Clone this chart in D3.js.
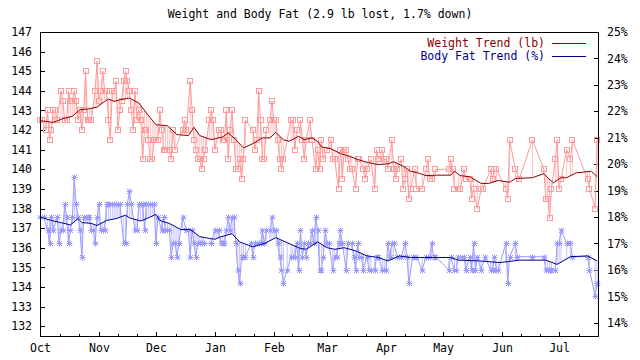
<!DOCTYPE html>
<html><head><meta charset="utf-8">
<script src="https://cdn.jsdelivr.net/npm/d3@7"></script>
<style>
body{margin:0;background:#fff}
svg text{font-family:"DejaVu Sans Mono","Liberation Mono",monospace;font-size:11.5px;fill:#000}
</style></head><body>
<svg id="c" width="640" height="360"></svg>
<script>
// ---------- data ----------
const chartTitle = "Weight and Body Fat (2.9 lb lost, 1.7% down)";
const legendLabels = ["Weight Trend (lb)", "Body Fat Trend (%)"];
const monthLabels = ["Oct","Nov","Dec","Jan","Feb","Mar","Apr","May","Jun","Jul"];
const weightTicks = [132,133,134,135,136,137,138,139,140,141,142,143,144,145,146,147];
const fatTicks = [14,15,16,17,18,19,20,21,22,23,24,25];
const startDay = "2008-10-01", endDay = "2009-07-22";

// days after startDay
const weightDays = [0,1,3,4,5,6,7,8,9,11,
12,13,14,15,16,17,18,19,20,21,
22,23,24,25,26,27,29,30,31,32,
33,34,35,36,37,38,39,40,41,42,
43,44,45,46,47,48,49,50,51,52,
53,54,55,56,57,58,59,60,61,62,
63,64,65,66,67,68,69,70,71,75,
76,77,79,80,81,82,83,84,85,86,
87,89,90,91,92,94,95,96,97,98,
99,100,101,102,103,104,105,106,107,108,
112,113,114,115,116,117,118,119,121,122,
123,124,125,126,127,128,132,133,134,135,
137,138,139,140,142,143,145,146,147,148,
149,151,153,154,155,157,158,159,160,161,
162,163,164,166,167,168,170,171,172,174,
176,177,178,180,181,182,183,185,186,187,
188,190,191,192,193,194,195,197,198,201,
203,204,205,206,208,215,216,217,218,220,
221,223,224,226,227,228,230,232,233,237,
238,239,240,245,246,247,250,252,259,265,
266,267,268,269,271,272,273,274,277,279,
280,288,289,292,293];
const weightLb = [142.5,142.5,142.0,143.0,141.5,142.0,143.0,143.0,142.5,144.0,
143.5,142.5,142.5,144.0,143.5,143.5,144.0,143.5,142.5,143.0,
142.0,143.0,145.0,142.5,142.5,142.5,144.0,145.5,143.5,144.0,
145.0,144.0,144.0,142.5,141.5,144.0,144.0,144.5,142.0,143.0,
143.5,144.5,145.0,144.5,144.0,143.0,142.0,144.0,142.5,143.0,
142.5,140.5,142.0,142.0,141.5,140.5,140.5,141.5,141.5,141.5,
143.0,142.0,141.0,141.0,141.0,141.0,140.5,142.0,141.0,142.0,
142.5,142.0,144.5,143.0,141.5,141.0,140.5,140.5,140.0,140.5,
141.0,142.5,143.0,142.5,141.0,142.0,142.0,141.5,141.5,143.0,
140.5,142.0,143.0,141.5,140.0,140.0,140.5,139.5,140.5,142.5,
142.0,141.0,141.5,144.0,142.5,140.5,140.5,142.0,142.5,143.5,
142.5,142.5,141.5,140.5,140.0,140.5,142.5,142.5,141.0,142.0,
142.5,141.5,140.5,141.5,142.5,141.5,140.0,141.0,140.0,141.5,
140.5,141.0,141.5,140.5,140.5,139.0,141.0,139.5,141.0,141.0,
140.5,140.0,140.0,139.0,140.5,140.5,140.0,139.5,140.0,140.5,
139.0,141.0,140.5,141.0,140.5,140.5,140.0,141.5,140.0,139.5,
140.0,140.5,139.0,139.5,140.0,138.5,139.0,140.0,139.0,139.0,
140.0,140.5,139.5,139.5,140.0,140.0,140.5,140.0,139.0,139.0,
139.0,140.0,139.5,139.5,138.5,139.0,138.0,139.0,139.0,140.0,
139.5,140.0,140.0,139.0,138.5,141.5,140.0,139.5,141.5,140.0,
138.5,138.5,137.5,139.0,140.5,141.5,139.0,139.5,141.0,140.5,
141.5,139.5,139.0,138.0,141.5];

const fatDays = [0,2,4,5,6,7,9,10,11,12,
13,14,15,16,17,18,19,20,21,22,
23,24,25,26,27,28,29,30,31,32,
33,34,35,36,37,38,39,40,41,42,
44,45,46,47,48,50,51,52,53,54,
55,56,57,58,59,60,61,62,64,65,
66,67,68,69,70,71,72,73,75,77,
78,79,80,81,82,83,84,85,86,90,
92,93,94,95,96,97,98,99,100,101,
102,103,104,105,106,107,108,111,112,113,
114,115,116,117,118,119,121,122,123,124,
125,126,127,128,130,132,133,134,135,136,
137,138,139,140,141,142,143,144,145,146,
147,148,149,150,151,152,154,155,156,157,
158,159,161,162,164,165,166,167,168,169,
170,172,173,174,176,177,178,180,181,182,
183,184,185,186,188,189,190,192,193,194,
196,198,201,203,204,205,206,207,208,215,
216,218,219,220,222,223,224,226,227,228,
229,230,232,234,237,238,239,240,241,245,
246,247,250,251,259,265,266,267,268,269,
271,272,273,274,277,279,280,288,289,292,
293];
const fatPct = [18.0,18.0,17.5,17.0,18.0,17.5,18.0,17.0,17.5,17.5,
18.5,18.0,17.0,17.5,18.0,19.5,18.5,18.0,17.5,16.5,
18.0,18.0,18.0,18.0,17.5,17.5,17.0,18.0,18.5,17.5,
17.5,17.5,18.5,18.5,18.5,18.5,18.5,18.5,18.5,18.5,
17.0,17.0,18.5,19.0,18.5,17.5,17.5,18.5,18.5,18.5,
17.5,18.5,18.5,18.5,18.5,18.5,17.0,18.0,17.5,18.0,
17.5,17.5,17.5,16.5,17.0,17.0,16.5,17.0,18.0,17.5,
17.5,16.5,17.5,17.0,16.5,17.0,17.0,17.0,17.0,17.0,
17.5,17.5,17.5,17.0,17.0,17.0,17.5,18.0,17.5,18.0,
18.0,17.0,16.0,15.5,16.5,16.5,16.5,17.0,16.5,17.0,
17.0,17.0,17.0,17.5,17.0,17.5,17.5,18.0,17.5,17.5,
17.0,16.5,16.0,15.5,16.0,16.5,16.5,16.5,17.0,16.0,
17.5,16.5,17.0,16.5,17.0,17.0,17.5,17.0,18.0,17.5,
16.0,16.0,16.5,17.5,17.0,17.0,16.0,16.5,16.5,17.0,
17.5,17.0,16.0,17.0,17.0,16.5,16.0,17.0,16.5,16.5,
16.0,16.5,16.0,16.0,16.0,16.5,16.5,16.0,16.0,16.0,
17.0,16.5,17.0,17.0,16.5,16.5,16.5,17.0,16.5,15.5,
16.5,16.5,16.0,16.5,16.5,16.5,17.0,16.5,16.5,16.0,
16.5,16.0,16.0,16.5,16.5,16.5,16.0,16.5,16.0,17.0,
16.0,16.5,16.0,16.5,16.0,16.0,16.5,16.0,16.0,17.0,
15.5,16.5,17.0,16.5,16.5,16.5,16.0,16.0,16.0,16.0,
16.0,17.0,17.0,17.5,17.0,17.0,16.5,16.5,16.0,15.0,
15.5];

// trend lines
const weightTrendDays = [0,7,12,17,21,25,30,34,36,39,42,47,52,56,61,67,72,78,81,84,
90,96,99,103,107,112,117,121,124,128,131,136,139,143,146,148,153,158,163,167,
173,178,183,186,191,195,200,203,209,216,218,221,226,232,236,241,247,250,259,265,
267,270,274,277,282,290,293];
const weightTrendLb = [142.48,142.39,142.58,142.70,143.04,143.07,143.17,143.46,143.58,143.46,
143.54,143.63,143.38,142.87,142.27,142.22,141.77,141.72,142.14,141.72,
141.51,141.65,141.85,141.51,141.09,141.31,141.60,141.60,141.88,141.51,
141.43,141.68,141.51,141.60,141.43,141.14,141.05,140.80,140.66,140.50,
140.33,140.24,140.28,140.38,140.16,139.90,139.78,139.68,139.70,139.70,
139.90,139.68,139.62,139.28,139.28,139.43,139.34,139.53,139.57,139.78,
139.57,139.31,139.57,139.57,139.82,139.90,139.62];
const fatTrendDays = [0,6,11,16,20,22,27,30,35,40,45,47,53,58,61,63,68,74,79,84,
89,92,95,101,105,112,119,124,130,137,140,146,151,155,160,166,172,178,183,189,
195,200,207,216,220,231,242,247,252,266,272,279,288,293];
const fatTrendPct = [18.0,17.87,17.79,17.70,17.94,17.79,17.76,17.68,17.87,17.94,
18.07,17.97,17.85,18.0,18.1,17.87,17.76,17.53,17.53,17.26,
17.19,17.16,17.25,17.37,17.06,16.87,17.03,17.22,17.03,16.81,
16.78,17.06,16.84,16.78,16.84,16.72,16.53,16.47,16.34,16.53,
16.47,16.47,16.47,16.47,16.37,16.34,16.28,16.32,16.37,16.37,
16.21,16.50,16.53,16.34];

// ---------- styles ----------
const C = {
  wPt:"#ff9a9a", wImp:"#ffc2c2", wTrend:"#8b0000",
  fPt:"#9a9aff", fImp:"#c2c2ff", fTrend:"#00008b"
};
const L=40, R=599, T=32, B=336;

const parse = d3.timeParse("%Y-%m-%d");
const day0 = parse(startDay), dayN = parse(endDay);
const toDate = d => d3.timeDay.offset(day0, d);

const x = d3.scaleTime().domain([day0, dayN]).range([L, R]);
const yW = d3.scaleLinear().domain([131.5, 147]).range([B, T]);
const yF = d3.scaleLinear().domain([13.5, 25]).range([B, T]);
const wTrendAt = d3.scaleLinear().domain(weightTrendDays).range(weightTrendLb);
const fTrendAt = d3.scaleLinear().domain(fatTrendDays).range(fatTrendPct);

const svg = d3.select("#c");
svg.append("rect").attr("width",640).attr("height",360).attr("fill","#fff");

// title
svg.append("text").attr("x",320).attr("y",18).attr("text-anchor","middle").text(chartTitle);

// axes
const gL = svg.append("g").attr("transform",`translate(${L},0)`)
  .call(d3.axisLeft(yW).tickValues(weightTicks).tickSizeInner(-5).tickSizeOuter(0).tickPadding(8).tickFormat(d3.format("d")));
const gR = svg.append("g").attr("transform",`translate(${R},0)`)
  .call(d3.axisRight(yF).tickValues(fatTicks).tickSizeInner(-5).tickSizeOuter(0).tickPadding(8).tickFormat(d=>d+"%"));
const months = d3.timeMonth.range(day0, dayN);
const gB = svg.append("g").attr("transform",`translate(0,${B})`)
  .call(d3.axisBottom(x).tickValues(months).tickSizeInner(-4).tickSizeOuter(0).tickPadding(8).tickFormat((d,i)=>monthLabels[i]));
const minor = [];
months.forEach(m => {
  const nx = d3.timeMonth.offset(m,1);
  const span = nx - m;
  minor.push(new Date(+m + span/3), new Date(+m + 2*span/3));
});
const gM = svg.append("g").attr("transform",`translate(0,${B})`)
  .call(d3.axisBottom(x).tickValues(minor.filter(d=>d<=dayN)).tickSizeInner(-2).tickSizeOuter(0).tickFormat(""));
[gL,gR,gB,gM].forEach(g=>{
  g.select(".domain").remove();
  g.selectAll("text").attr("font-family",null).attr("font-size",null).attr("fill","#000");
  g.selectAll("line").attr("stroke","#000").attr("shape-rendering","crispEdges");
});

// data
const wData = weightDays.map((d,i)=>({t:toDate(d), v:weightLb[i], tr:wTrendAt(d)}));
const fData = fatDays.map((d,i)=>({t:toDate(d), v:fatPct[i], tr:fTrendAt(d)}));
const wTr = weightTrendDays.map((d,i)=>({t:toDate(d), v:weightTrendLb[i]}));
const fTr = fatTrendDays.map((d,i)=>({t:toDate(d), v:fatTrendPct[i]}));

const plot = svg.append("g");
// impulses to trend
plot.append("g").selectAll("line").data(wData).join("line")
  .attr("x1",d=>x(d.t)).attr("x2",d=>x(d.t))
  .attr("y1",d=>yW(d.v)).attr("y2",d=>yW(d.tr))
  .attr("stroke",C.wImp).attr("stroke-width",1);
plot.append("g").selectAll("line").data(fData).join("line")
  .attr("x1",d=>x(d.t)).attr("x2",d=>x(d.t))
  .attr("y1",d=>yF(d.v)).attr("y2",d=>yF(d.tr))
  .attr("stroke",C.fImp).attr("stroke-width",1);
// connecting lines
plot.append("path").datum(wData).attr("fill","none").attr("stroke",C.wPt).attr("stroke-width",1)
  .attr("d", d3.line().x(d=>x(d.t)).y(d=>yW(d.v)));
plot.append("path").datum(fData).attr("fill","none").attr("stroke",C.fPt).attr("stroke-width",1)
  .attr("d", d3.line().x(d=>x(d.t)).y(d=>yF(d.v)));
// markers
plot.append("g").selectAll("rect").data(wData).join("rect")
  .attr("x",d=>Math.round(x(d.t))-2.5).attr("y",d=>Math.round(yW(d.v))-2.5)
  .attr("width",5).attr("height",5).attr("fill","none").attr("stroke",C.wPt).attr("stroke-width",1);
const star = "M-3,0H3M0,-3V3M-2.5,-2.5L2.5,2.5M-2.5,2.5L2.5,-2.5";
plot.append("g").selectAll("path").data(fData).join("path")
  .attr("transform",d=>`translate(${Math.round(x(d.t))+0.5},${Math.round(yF(d.v))+0.5})`)
  .attr("d",star).attr("fill","none").attr("stroke",C.fPt).attr("stroke-width",1);
// trends
plot.append("path").datum(wTr).attr("fill","none").attr("stroke",C.wTrend).attr("stroke-width",1)
  .attr("d", d3.line().x(d=>x(d.t)).y(d=>yW(d.v)));
plot.append("path").datum(fTr).attr("fill","none").attr("stroke",C.fTrend).attr("stroke-width",1)
  .attr("d", d3.line().x(d=>x(d.t)).y(d=>yF(d.v)));

// frame
svg.append("rect").attr("x",L+0.5).attr("y",T+0.5).attr("width",R-L-1).attr("height",B-T)
  .attr("fill","none").attr("stroke","#000").attr("stroke-width",1).attr("shape-rendering","crispEdges");

// legend
const legRows = [{label:legendLabels[0], c:C.wTrend, y:43},{label:legendLabels[1], c:C.fTrend, y:56}];
legRows.forEach(r=>{
  svg.append("text").attr("x",545).attr("y",r.y).attr("dy","0.35em").attr("text-anchor","end")
    .style("fill",r.c).text(r.label);
  svg.append("line").attr("x1",552).attr("x2",586).attr("y1",r.y+0.5).attr("y2",r.y+0.5)
    .attr("stroke",r.c).attr("stroke-width",1).attr("shape-rendering","crispEdges");
});
</script>
</body></html>
